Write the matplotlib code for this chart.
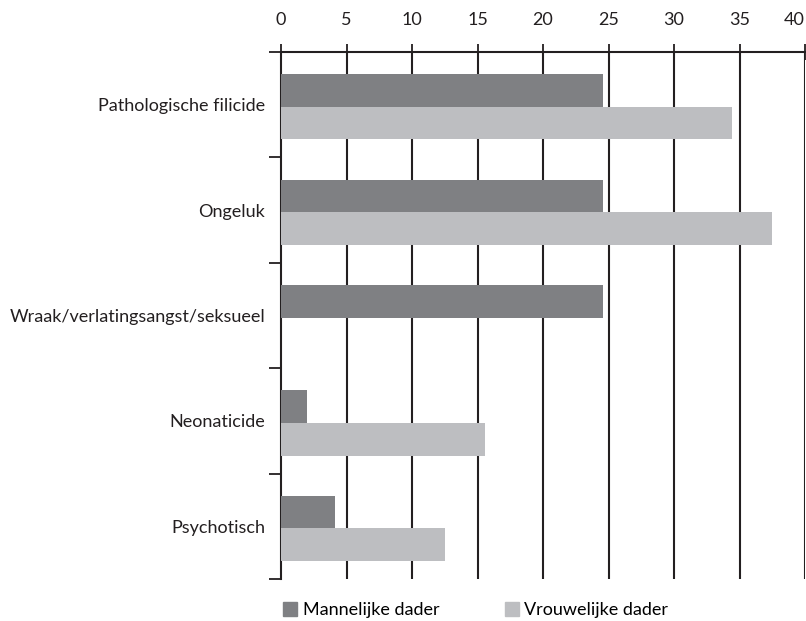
import numpy as np
import matplotlib
matplotlib.use("Agg")
import matplotlib.pyplot as plt
from matplotlib.patches import Patch

categories = ["Pathologische filicide", "Ongeluk", "Wraak/verlatingsangst/seksueel",
              "Neonaticide", "Psychotisch"]
male = [24.6, 24.6, 24.6, 2.0, 4.1]
female = [34.4, 37.5, 0.0, 15.6, 12.5]
series_names = ["Mannelijke dader", "Vrouwelijke dader"]
x_ticks = [0, 5, 10, 15, 20, 25, 30, 35, 40]

MALE_COLOR = "#7f8083"
FEMALE_COLOR = "#bdbec1"

plt.rcParams["font.family"] = ["Lato", "DejaVu Sans"]

fig = plt.figure(figsize=(8.06, 6.21), dpi=100)
ax = fig.add_axes([281 / 806, 1 - 579 / 621, 524 / 806, 527 / 621])

y = np.arange(len(categories))
h = 0.31
ax.barh(y - 0.135, male, height=h, color=MALE_COLOR, zorder=3)
ax.barh(y + 0.175, female, height=h, color=FEMALE_COLOR, zorder=3)

ax.set_xlim(0, 40)
ax.set_ylim(len(categories) - 0.5, -0.5)

# vertical grid lines at every x tick
for t in x_ticks[1:]:
    ax.axvline(t, color="#231f20", lw=1.5, zorder=1)

ax.xaxis.tick_top()
ax.set_xticks(x_ticks)
ax.set_xticklabels([str(t) for t in x_ticks])
ax.tick_params(axis="x", direction="inout", length=11, width=1.3, colors="#231f20",
               labelsize=13, pad=12)
# last label would run off the edge, keep it inside
ax.get_xticklabels()[-1].set_horizontalalignment("right")

ax.set_yticks(y)
ax.set_yticklabels(categories)
ax.set_yticks(np.arange(-0.5, len(categories)), minor=True)
ax.tick_params(axis="y", which="major", length=0, labelsize=13, pad=11.5, colors="#231f20")
ax.tick_params(axis="y", which="minor", length=9, width=1.3, direction="out", color="#231f20")

for s in ["right", "bottom"]:
    ax.spines[s].set_visible(False)
for s in ["top", "left"]:
    ax.spines[s].set_linewidth(1.5)
    ax.spines[s].set_color("#231f20")

handles = [Patch(color=MALE_COLOR, label=series_names[0]),
           Patch(color=FEMALE_COLOR, label=series_names[1])]
fig.legend(handles=handles, loc="center left", bbox_to_anchor=(274 / 806, 1 - 610 / 621),
           ncol=2, frameon=False, fontsize=13, handlelength=0.8, handleheight=0.8,
           handletextpad=0.3, columnspacing=3.6, borderpad=0)

fig.savefig("out.png", dpi=100, facecolor="white")
